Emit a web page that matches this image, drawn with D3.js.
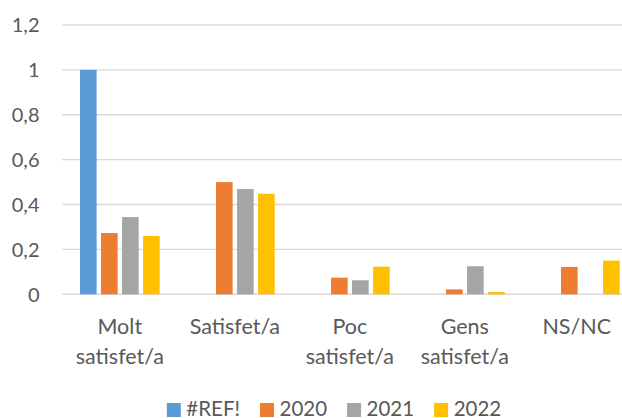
<!DOCTYPE html>
<html>
<head>
<meta charset="utf-8">
<script src="https://cdn.jsdelivr.net/npm/d3@7"></script>
<style>
  html, body { margin: 0; padding: 0; background: #fff; }
  svg { display: block; }
  text { font-family: Lato, "Open Sans", sans-serif; fill: #595959; }
</style>
</head>
<body>
<svg id="chart" width="622" height="418"></svg>
<script>
const categories = [["Molt", "satisfet/a"], ["Satisfet/a"], ["Poc", "satisfet/a"], ["Gens", "satisfet/a"], ["NS/NC"]];
const seriesNames = ["#REF!", "2020", "2021", "2022"];
const seriesColors = ["#5B9BD5", "#ED7D31", "#A5A5A5", "#FFC000"];
const valuesREF  = [1, null, null, null, null];
const values2020 = [0.273, 0.5, 0.074, 0.022, 0.122];
const values2021 = [0.344, 0.469, 0.0625, 0.125, null];
const values2022 = [0.26, 0.448, 0.123, 0.01, 0.15];
const yTicks = [0, 0.2, 0.4, 0.6, 0.8, 1, 1.2];

const allValues = [valuesREF, values2020, values2021, values2022];
const catKeys = categories.map(c => c.join(" "));

const svg = d3.select("#chart");
const fmt = v => String(v).replace(".", ",");

const y = d3.scaleLinear().domain([0, 1.2]).range([294.3, 25]);
const x0 = d3.scaleBand().domain(catKeys).range([62.3, 637.3]).paddingInner(0).paddingOuter(0);
const x1 = d3.scaleBand().domain(seriesNames).range([17.7, 97.4]).paddingInner(0.21).paddingOuter(0);

// gridlines
svg.append("g").selectAll("line").data(yTicks).join("line")
  .attr("x1", 62.3).attr("x2", 622)
  .attr("y1", d => y(d)).attr("y2", d => y(d))
  .attr("stroke", "#d9d9d9").attr("stroke-width", 1.4);

// y labels
svg.append("g").selectAll("text").data(yTicks).join("text")
  .attr("x", 39.5).attr("y", d => y(d))
  .attr("dy", "0.36em")
  .attr("text-anchor", "end")
  .style("font-size", "20px")
  .text(d => fmt(d));

// bars
const groups = svg.append("g").selectAll("g").data(seriesNames).join("g")
  .attr("fill", (d, i) => seriesColors[i]);
groups.each(function(s, si) {
  d3.select(this).selectAll("rect")
    .data(allValues[si].map((v, ci) => ({v, c: catKeys[ci]})).filter(d => d.v != null))
    .join("rect")
    .attr("x", d => x0(d.c) + x1(s))
    .attr("width", x1.bandwidth())
    .attr("y", d => y(d.v))
    .attr("height", d => y(0) - y(d.v));
});

// x labels
const xl = svg.append("g").selectAll("text").data(categories).join("text")
  .attr("text-anchor", "middle")
  .style("font-size", "21.5px");
xl.each(function(lines, i) {
  const t = d3.select(this);
  const cx = x0(catKeys[i]) + x0.bandwidth() / 2;
  lines.forEach((ln, li) => {
    t.append("tspan").attr("x", cx).attr("y", 333.5 + li * 30).text(ln);
  });
  const bb = this.getBBox();
  const over = bb.x + bb.width - 611;
  if (over > 0) t.selectAll("tspan").attr("x", cx - over);
});

// legend
const leg = svg.append("g");
let lx = 0;
seriesNames.forEach((s, i) => {
  leg.append("rect").attr("x", lx).attr("y", 403).attr("width", 14).attr("height", 14).attr("fill", seriesColors[i]);
  const t = leg.append("text").attr("x", lx + 19.5).attr("y", 415.5).style("font-size", "20.5px").text(s);
  lx += 19.5 + t.node().getComputedTextLength() + 20;
});
const legW = lx - 20;
leg.attr("transform", `translate(${334 - legW / 2},0)`);
</script>
</body>
</html>
